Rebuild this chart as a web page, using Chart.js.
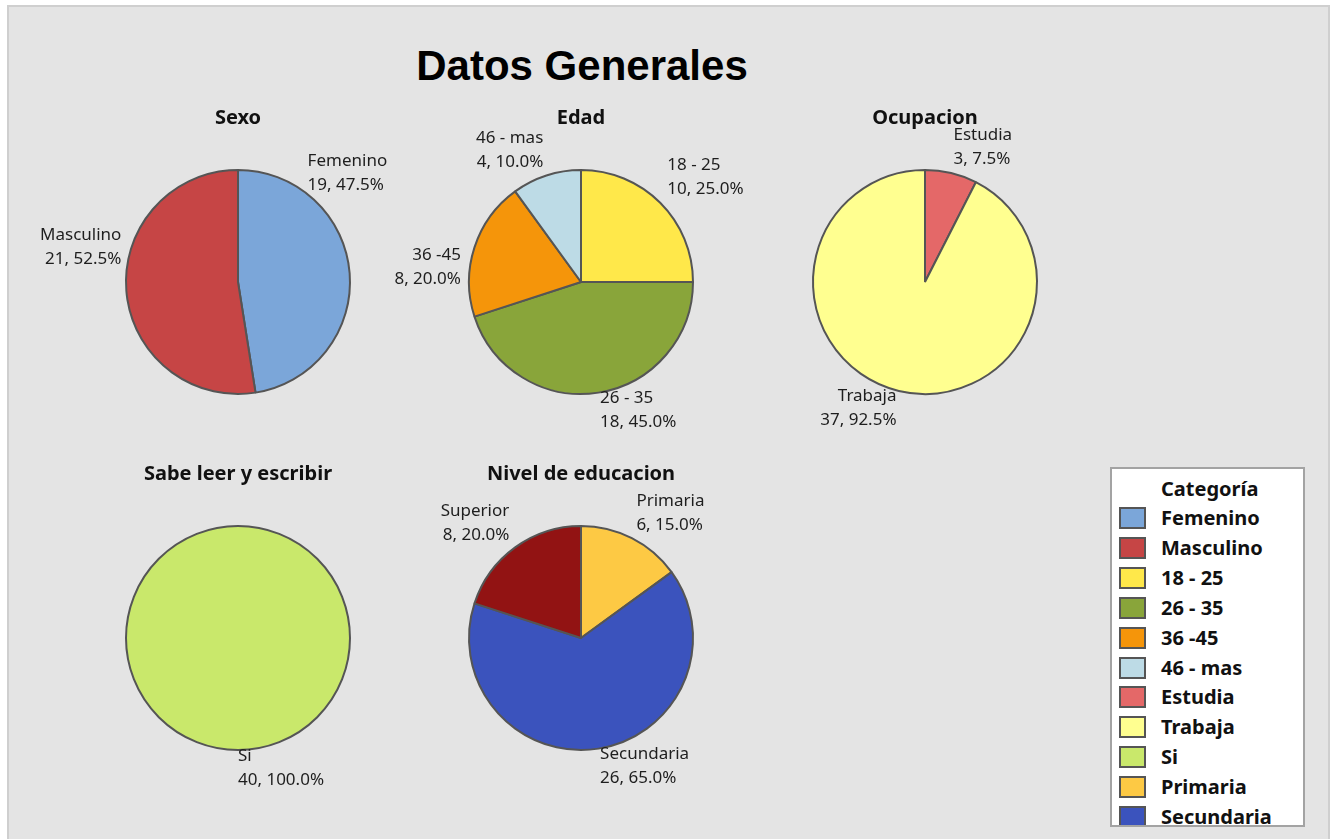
<!DOCTYPE html>
<html>
<head>
<meta charset="utf-8">
<script src="https://cdn.jsdelivr.net/npm/chart.js"></script>
<style>
  body { margin: 0; background: #ffffff; width: 1335px; height: 839px; overflow: hidden; position: relative; }
  #frame { position: absolute; left: 7px; top: 5px; width: 1319px; height: 860px; background: #e4e4e4; border: 2px solid #cfcfcf; }
  #main-title { position: absolute; left: 0; top: 41px; width: 1164px; text-align: center; font: bold 42px "Liberation Sans", Arial, sans-serif; line-height: 50px; color: #000; }
  canvas { position: absolute; }
  #legend { position: absolute; left: 1110px; top: 467px; width: 195px; height: 360px; box-sizing: border-box; background: #fff; border: 2px solid #a3a3a3; overflow: hidden; font: bold 20px "Noto Sans", sans-serif; color: #111; }
  #legend .ttl { position: absolute; left: 49px; top: 5px; line-height: 30px; }
  #legend .row { position: absolute; left: 0; height: 30px; line-height: 30px; width: 100%; }
  #legend .sw { position: absolute; left: 7px; top: 4px; width: 27px; height: 22px; box-sizing: border-box; border: 2px solid #555; }
  #legend .txt { position: absolute; left: 49px; top: 0; white-space: nowrap; }
</style>
</head>
<body>
<div id="frame"></div>
<div id="main-title">Datos Generales</div>
<canvas id="c-sexo" width="440" height="360" style="left:18px;top:106px"></canvas>
<canvas id="c-edad" width="440" height="360" style="left:361px;top:106px"></canvas>
<canvas id="c-ocup" width="440" height="360" style="left:705px;top:106px"></canvas>
<canvas id="c-leer" width="440" height="360" style="left:18px;top:462px"></canvas>
<canvas id="c-educ" width="440" height="360" style="left:361px;top:462px"></canvas>
<div id="legend"></div>
<script>
// Datos de cada gráfico
const sexoLabels = ['Femenino', 'Masculino'];
const sexoValues = [19, 21];
const edadLabels = ['18 - 25', '26 - 35', '36 -45', '46 - mas'];
const edadValues = [10, 18, 8, 4];
const ocupLabels = ['Estudia', 'Trabaja'];
const ocupValues = [3, 37];
const leerLabels = ['Si'];
const leerValues = [40];
const educLabels = ['Primaria', 'Secundaria', 'Superior'];
const educValues = [6, 26, 8];

// Colores por categoría
const colores = {
    'Femenino': '#7ba6d9',
    'Masculino': '#c64545',
    '18 - 25': '#ffe84a',
    '26 - 35': '#89a53a',
    '36 -45': '#f5950a',
    '46 - mas': '#bddbe6',
    'Estudia': '#e46868',
    'Trabaja': '#ffff90',
    'Si': '#c9e86b',
    'Primaria': '#fdc944',
    'Secundaria': '#3b53bd',
    'Superior': '#921313'
};

// Plugin: etiquetas "Nombre" / "n, pct%" fuera de cada sector
const etiquetasPlugin = {
    id: 'etiquetas',
    afterDatasetsDraw(chart) {
        // contorno del círculo cuando hay un solo sector (sin línea radial)
        const meta = chart.getDatasetMeta(0);
        if (meta.data.length !== 1) return;
        const p = meta.data[0].getProps(['x', 'y', 'outerRadius'], true);
        const ctx = chart.ctx;
        ctx.save();
        ctx.strokeStyle = '#555555';
        ctx.lineWidth = 2;
        ctx.beginPath();
        ctx.arc(p.x, p.y, p.outerRadius, 0, Math.PI * 2);
        ctx.stroke();
        ctx.restore();
    },
    afterDraw(chart, args, opts) {
        const ctx = chart.ctx;
        const meta = chart.getDatasetMeta(0);
        const data = chart.data.datasets[0].data;
        const total = data.reduce((a, b) => a + b, 0);
        ctx.save();
        ctx.font = '17px "Noto Sans", sans-serif';
        ctx.fillStyle = '#1e1e1e';
        ctx.textBaseline = 'middle';
        meta.data.forEach((arc, i) => {
            const p = arc.getProps(['x', 'y', 'startAngle', 'endAngle', 'outerRadius'], true);
            const a = (p.startAngle + p.endAngle) / 2;
            const R = p.outerRadius + 10;
            let x = p.x + Math.cos(a) * R;
            let y = p.y + Math.sin(a) * R;
            ctx.textAlign = Math.cos(a) >= -0.01 ? 'left' : 'right';
            let y1 = Math.sin(a) < 0 ? y - 28 : y - 4;
            const nudge = (opts.nudges || [])[i] || [0, 0];
            x += nudge[0];
            y1 += nudge[1];
            const pct = (data[i] / total * 100).toFixed(1);
            ctx.fillText(chart.data.labels[i], x, y1);
            ctx.fillText(data[i] + ', ' + pct + '%', x, y1 + 24);
        });
        ctx.restore();
    }
};

function crearPie(id, titulo, labels, values, nudges) {
    return new Chart(document.getElementById(id), {
        type: 'pie',
        data: {
            labels: labels,
            datasets: [{
                data: values,
                backgroundColor: labels.map(l => colores[l]),
                borderColor: '#555555',
                borderWidth: values.length > 1 ? 2 : 0,
                radius: 112
            }]
        },
        options: {
            responsive: false,
            animation: false,
            events: [],
            layout: { padding: { top: 0, bottom: 35, left: 0, right: 0 } },
            plugins: {
                legend: { display: false },
                tooltip: { enabled: false },
                title: {
                    display: true,
                    text: titulo,
                    color: '#111',
                    font: { family: '"Noto Sans", sans-serif', size: 20, weight: 'bold' },
                    padding: { top: 0, bottom: 3 }
                },
                etiquetas: { nudges: nudges }
            }
        },
        plugins: [etiquetasPlugin]
    });
}

crearPie('c-sexo', 'Sexo', sexoLabels, sexoValues, [[-52, -83], [5, -52]]);
crearPie('c-edad', 'Edad', edadLabels, edadValues, [[0, -3], [0, 0], [-4, 39], [0, 0]]);
crearPie('c-ocup', 'Ocupacion', ocupLabels, ocupValues, []);
crearPie('c-leer', 'Sabe leer y escribir', leerLabels, leerValues, []);
crearPie('c-educ', 'Nivel de educacion', educLabels, educValues, []);

// Leyenda común
const legendDiv = document.getElementById('legend');
let html = '<div class="ttl">Categoría</div>';
Object.keys(colores).forEach((nombre, i) => {
    const top = 34 + i * 29.9;
    html += `<div class="row" style="top:${top}px"><div class="sw" style="background:${colores[nombre]}"></div><div class="txt">${nombre}</div></div>`;
});
legendDiv.innerHTML = html;
</script>
</body>
</html>
